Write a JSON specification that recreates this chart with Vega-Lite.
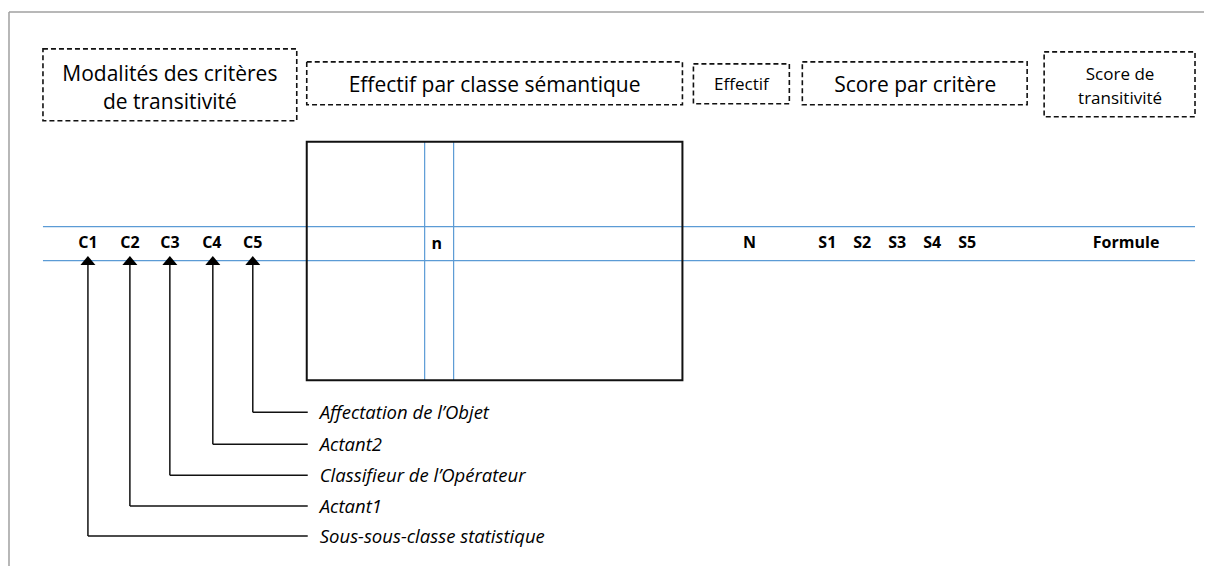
{
  "$schema": "https://vega.github.io/schema/vega-lite/v6.json",
  "width": 1205,
  "height": 567,
  "padding": 0,
  "autosize": {"type": "fit", "contains": "padding"},
  "background": "white",
  "config": {"view": {"stroke": null}},
  "datasets": {
    "frame": [
      {"x": 9, "y": 12, "x2": 1205, "y2": 12},
      {"x": 9, "y": 12, "x2": 9, "y2": 567}
    ],
    "dashed": [
      {"x": 43, "y": 49, "x2": 297, "y2": 121},
      {"x": 307, "y": 62, "x2": 683, "y2": 105},
      {"x": 694, "y": 64, "x2": 790, "y2": 104},
      {"x": 803, "y": 62, "x2": 1028, "y2": 105},
      {"x": 1045, "y": 52, "x2": 1196, "y2": 117}
    ],
    "solid": [
      {"x": 307, "y": 142, "x2": 683, "y2": 381}
    ],
    "blue": [
      {"x": 43, "y": 227, "x2": 1196, "y2": 227},
      {"x": 43, "y": 261, "x2": 1196, "y2": 261},
      {"x": 425, "y": 142, "x2": 425, "y2": 381},
      {"x": 454, "y": 142, "x2": 454, "y2": 381}
    ],
    "connectors": [
      {"x": 253, "y": 262, "x2": 253, "y2": 413},
      {"x": 253, "y": 413, "x2": 308, "y2": 413},
      {"x": 213, "y": 262, "x2": 213, "y2": 445},
      {"x": 213, "y": 445, "x2": 308, "y2": 445},
      {"x": 170, "y": 262, "x2": 170, "y2": 476},
      {"x": 170, "y": 476, "x2": 308, "y2": 476},
      {"x": 130, "y": 262, "x2": 130, "y2": 507},
      {"x": 130, "y": 507, "x2": 308, "y2": 507},
      {"x": 88, "y": 262, "x2": 88, "y2": 537},
      {"x": 88, "y": 537, "x2": 308, "y2": 537}
    ],
    "arrows": [
      {"x": 88, "y": 261},
      {"x": 130, "y": 261},
      {"x": 170, "y": 261},
      {"x": 213, "y": 261},
      {"x": 253, "y": 261}
    ],
    "bigText": [
      {"x": 170, "y": 75, "t": "Modalités des critères"},
      {"x": 170, "y": 103, "t": "de transitivité"},
      {"x": 495, "y": 86, "t": "Effectif par classe sémantique"},
      {"x": 916, "y": 86, "t": "Score par critère"}
    ],
    "smallText": [
      {"x": 742, "y": 85, "t": "Effectif"},
      {"x": 1121, "y": 75, "t": "Score de"},
      {"x": 1121, "y": 99, "t": "transitivité"}
    ],
    "boldText": [
      {"x": 88, "y": 243, "t": "C1"},
      {"x": 130, "y": 243, "t": "C2"},
      {"x": 170, "y": 243, "t": "C3"},
      {"x": 212, "y": 243, "t": "C4"},
      {"x": 253, "y": 243, "t": "C5"},
      {"x": 437, "y": 244, "t": "n"},
      {"x": 750, "y": 243, "t": "N"},
      {"x": 828, "y": 243, "t": "S1"},
      {"x": 863, "y": 243, "t": "S2"},
      {"x": 898, "y": 243, "t": "S3"},
      {"x": 933, "y": 243, "t": "S4"},
      {"x": 968, "y": 243, "t": "S5"},
      {"x": 1127, "y": 243, "t": "Formule"}
    ],
    "italicText": [
      {"x": 320, "y": 414, "t": "Affectation de l’Objet"},
      {"x": 320, "y": 446, "t": "Actant2"},
      {"x": 320, "y": 477, "t": "Classifieur de l’Opérateur"},
      {"x": 320, "y": 508, "t": "Actant1"},
      {"x": 320, "y": 538, "t": "Sous-sous-classe statistique"}
    ]
  },
  "layer": [
    {
      "data": {"name": "frame"},
      "mark": {"type": "rule", "color": "#a0a0a0", "strokeWidth": 1.5},
      "encoding": {
        "x": {"field": "x", "type": "quantitative", "scale": {"domain": [0, 1205], "nice": false, "zero": false}, "axis": null},
        "y": {"field": "y", "type": "quantitative", "scale": {"domain": [0, 567], "nice": false, "zero": false, "reverse": true}, "axis": null},
        "x2": {"field": "x2"},
        "y2": {"field": "y2"}
      }
    },
    {
      "data": {"name": "dashed"},
      "mark": {"type": "rect", "fill": null, "fillOpacity": 0, "stroke": "#111111", "strokeWidth": 1.6, "strokeDash": [5, 3]},
      "encoding": {
        "x": {"field": "x", "type": "quantitative", "axis": null},
        "y": {"field": "y", "type": "quantitative", "axis": null},
        "x2": {"field": "x2"},
        "y2": {"field": "y2"}
      }
    },
    {
      "data": {"name": "blue"},
      "mark": {"type": "rule", "color": "#5b9bd5", "strokeWidth": 1.2},
      "encoding": {
        "x": {"field": "x", "type": "quantitative", "axis": null},
        "y": {"field": "y", "type": "quantitative", "axis": null},
        "x2": {"field": "x2"},
        "y2": {"field": "y2"}
      }
    },
    {
      "data": {"name": "solid"},
      "mark": {"type": "rect", "fill": null, "fillOpacity": 0, "stroke": "#111111", "strokeWidth": 2},
      "encoding": {
        "x": {"field": "x", "type": "quantitative", "axis": null},
        "y": {"field": "y", "type": "quantitative", "axis": null},
        "x2": {"field": "x2"},
        "y2": {"field": "y2"}
      }
    },
    {
      "data": {"name": "connectors"},
      "mark": {"type": "rule", "color": "#111111", "strokeWidth": 1.5},
      "encoding": {
        "x": {"field": "x", "type": "quantitative", "axis": null},
        "y": {"field": "y", "type": "quantitative", "axis": null},
        "x2": {"field": "x2"},
        "y2": {"field": "y2"}
      }
    },
    {
      "data": {"name": "arrows"},
      "mark": {"type": "point", "shape": "M-1,0.6L0,-0.6L1,0.6Z", "size": 225, "filled": true, "color": "#000000", "opacity": 1},
      "encoding": {
        "x": {"field": "x", "type": "quantitative", "axis": null},
        "y": {"field": "y", "type": "quantitative", "axis": null}
      }
    },
    {
      "data": {"name": "bigText"},
      "mark": {"type": "text", "font": "Open Sans", "fontSize": 21, "color": "#000000", "align": "center", "baseline": "middle"},
      "encoding": {
        "x": {"field": "x", "type": "quantitative", "axis": null},
        "y": {"field": "y", "type": "quantitative", "axis": null},
        "text": {"field": "t"}
      }
    },
    {
      "data": {"name": "smallText"},
      "mark": {"type": "text", "font": "Open Sans", "fontSize": 17, "color": "#000000", "align": "center", "baseline": "middle"},
      "encoding": {
        "x": {"field": "x", "type": "quantitative", "axis": null},
        "y": {"field": "y", "type": "quantitative", "axis": null},
        "text": {"field": "t"}
      }
    },
    {
      "data": {"name": "boldText"},
      "mark": {"type": "text", "font": "Open Sans", "fontSize": 16, "fontWeight": "bold", "color": "#000000", "align": "center", "baseline": "middle"},
      "encoding": {
        "x": {"field": "x", "type": "quantitative", "axis": null},
        "y": {"field": "y", "type": "quantitative", "axis": null},
        "text": {"field": "t"}
      }
    },
    {
      "data": {"name": "italicText"},
      "mark": {"type": "text", "font": "Open Sans", "fontSize": 18.5, "fontStyle": "italic", "color": "#000000", "align": "left", "baseline": "middle"},
      "encoding": {
        "x": {"field": "x", "type": "quantitative", "axis": null},
        "y": {"field": "y", "type": "quantitative", "axis": null},
        "text": {"field": "t"}
      }
    }
  ]
}
